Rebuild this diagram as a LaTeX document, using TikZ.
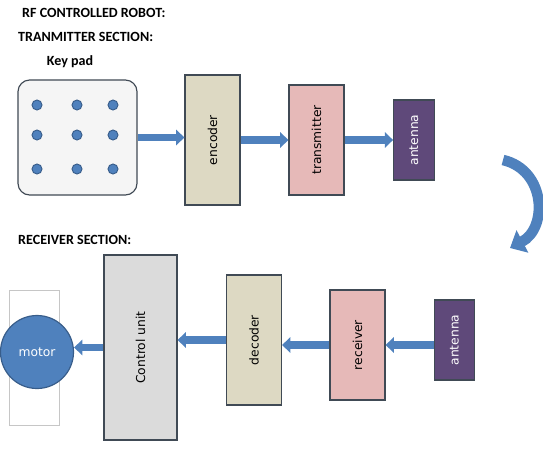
\documentclass[tikz,border=0pt]{standalone}
\usepackage{fontspec}
\setmainfont{DejaVu Sans}
\newfontfamily\headfont{Carlito}
\usepackage{xcolor}
\definecolor{boxblue}{RGB}{79,129,189}
\definecolor{edgeblue}{RGB}{56,93,138}
\definecolor{khaki}{RGB}{221,217,195}
\definecolor{rosepink}{RGB}{230,185,184}
\definecolor{grape}{RGB}{95,73,122}
\definecolor{slate}{RGB}{64,74,85}
\usetikzlibrary{arrows.meta,positioning}
\tikzset{
  >={Triangle[length=7pt,width=13pt]},
  heading/.style={anchor=west,inner sep=0pt,font=\headfont\bfseries\fontsize{12}{14}\selectfont},
  block/.style={rectangle,draw=slate,line width=1pt,inner sep=0pt,font=\fontsize{10.5}{12}\selectfont},
  keypad/.style={block,rounded corners=10pt,fill=gray!8,minimum width=3.57cm,minimum height=3.45cm},
  key/.style={circle,draw=edgeblue,fill=boxblue,line width=0.8pt,minimum size=0.3cm,inner sep=0pt},
  coder/.style={block,fill=khaki,minimum width=1.65cm,minimum height=3.9cm},
  radio/.style={block,fill=rosepink,minimum width=1.65cm,minimum height=3.3cm},
  aerial/.style={block,fill=grape,text=white,minimum width=1.22cm,minimum height=2.4cm},
  unit/.style={block,fill=gray!28,minimum width=2.19cm,minimum height=5.55cm},
  frame/.style={rectangle,draw=gray!45,line width=0.8pt,minimum width=1.5cm,minimum height=4.05cm},
  motor/.style={circle,draw=edgeblue,fill=boxblue,line width=1pt,text=white,minimum size=2.19cm,font=\fontsize{10.5}{12}\selectfont},
  flow/.style={->,draw=boxblue,line width=6pt},
  turn/.style={-{Triangle[length=12pt,width=21pt]},draw=boxblue,line width=9pt}
}

\begin{document}
\begin{tikzpicture}[x=0.03cm,y=-0.03cm]
  \useasboundingbox (0,0) rectangle (543,450);

  % headings
  \node[heading] (title) at (22,13) {RF CONTROLLED ROBOT:};
  \node[heading] (txsec) at (18,37) {TRANMITTER SECTION:};
  \node[heading,anchor=center] (padlabel) at (70,62) {Key pad};
  \node[heading] (rxsec) at (18,240) {RECEIVER SECTION:};

  % transmitter section
  \node[keypad] (pad) at (77.5,137.5) {};
  \foreach \i/\x in {1/37,2/77,3/113}
    \foreach \j/\y in {1/105,2/135,3/169}
      \node[key] (k\i\j) at (\x,\y) {};
  \node[coder] (enc) at (212.5,140) {\rotatebox{90}{encoder}};
  \node[radio] (tx) at (316.5,140) {\rotatebox{90}{transmitter}};
  \node[aerial] (txant) at (414,140) {\rotatebox{90}{antenna}};

  \draw[flow] (pad.east) -- (pad.east -| enc.west);
  \draw[flow] (enc.east) -- (enc.east -| tx.west);
  \draw[flow] (tx.east) -- (tx.east -| txant.west);

  % turn over to the receiver
  \coordinate (turnA) at (503,160);
  \coordinate (turnB) at (510,248);
  \draw[turn] (turnA) .. controls (546,170) and (548,228) .. (turnB);

  % receiver section
  \node[frame] (mframe) at (34,357.5) {};
  \node[motor] (mot) at (37,352) {motor};
  \node[unit] (ctrl) at (140.5,347.5) {\rotatebox{90}{Control unit}};
  \node[coder] (dec) at (254,340) {\rotatebox{90}{decoder}};
  \node[radio] (rx) at (357.5,345) {\rotatebox{90}{receiver}};
  \node[aerial] (rxant) at (454.5,340) {\rotatebox{90}{antenna}};

  \draw[flow] (rxant.west |- rx.east) -- (rx.east);
  \draw[flow] (rx.west) -- (rx.west -| dec.east);
  \draw[flow] (dec.west) -- (dec.west -| ctrl.east);
  \draw[flow] (ctrl.west) -- (ctrl.west -| mot.east);
\end{tikzpicture}
\end{document}
